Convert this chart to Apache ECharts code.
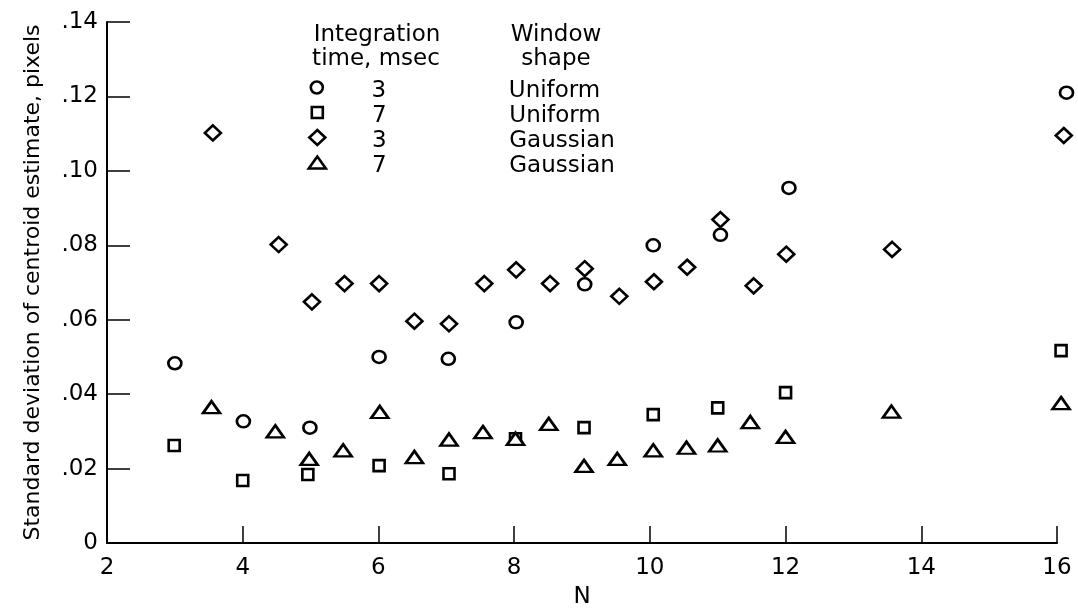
<!DOCTYPE html>
<html>
<head>
<meta charset="utf-8">
<script src="https://cdn.jsdelivr.net/npm/echarts@6/dist/echarts.min.js"></script>
<style>
  html, body { margin: 0; padding: 0; background: #fff; }
  #chart { width: 1078px; height: 609px; }
</style>
</head>
<body>
<div id="chart"></div>
<script>
// ---- Data ----
const xTickValues = [2, 4, 6, 8, 10, 12, 14, 16];
const yTickLabels = ['0', '.02', '.04', '.06', '.08', '.10', '.12', '.14'];

// Integration time 3 msec, Uniform window (circles)
const u3N  = [3.00, 4.01, 4.99, 6.01, 7.03, 8.03, 9.04, 10.05, 11.04, 12.05, 16.14];
const u3SD = [0.0483, 0.0327, 0.0310, 0.0500, 0.0495, 0.0593, 0.0695, 0.0800, 0.0828, 0.0954, 0.1210];

// Integration time 7 msec, Uniform window (squares)
const u7N  = [2.99, 4.00, 4.96, 6.01, 7.04, 8.02, 9.03, 10.05, 11.00, 12.00, 16.06];
const u7SD = [0.0262, 0.0168, 0.0184, 0.0208, 0.0186, 0.0280, 0.0310, 0.0345, 0.0363, 0.0404, 0.0517];

// Integration time 3 msec, Gaussian window (diamonds)
const g3N  = [3.56, 4.53, 5.02, 5.50, 6.01, 6.53, 7.04, 7.56, 8.03, 8.53, 9.04, 9.55, 10.06, 10.55, 11.04, 11.53, 12.01, 13.57, 16.10];
const g3SD = [0.1102, 0.0802, 0.0648, 0.0697, 0.0697, 0.0596, 0.0589, 0.0697, 0.0734, 0.0697, 0.0737, 0.0663, 0.0702, 0.0741, 0.0869, 0.0691, 0.0776, 0.0789, 0.1095];

// Integration time 7 msec, Gaussian window (triangles)
const g7N  = [3.54, 4.48, 4.98, 5.48, 6.02, 6.53, 7.04, 7.54, 8.02, 8.51, 9.03, 9.52, 10.05, 10.54, 11.00, 11.48, 12.00, 13.56, 16.06];
const g7SD = [0.0365, 0.0300, 0.0226, 0.0249, 0.0352, 0.0231, 0.0278, 0.0298, 0.0280, 0.0320, 0.0207, 0.0226, 0.0249, 0.0256, 0.0262, 0.0325, 0.0285, 0.0353, 0.0376];

const legendTimes  = ['3', '7', '3', '7'];
const legendShapes = ['Uniform', 'Uniform', 'Gaussian', 'Gaussian'];
const legendHeader1 = ['Integration', 'time, msec'];
const legendHeader2 = ['Window', 'shape'];

// ---- Styling / layout ----
const FONT = '"DejaVu Sans", "Liberation Sans", Arial, sans-serif';
const FS = 23;
const MARK_STYLE = { color: '#fff', borderColor: '#000', borderWidth: 2.6, opacity: 1 };
const seriesDefs = [
  { name: '3 msec Uniform',  xs: u3N, ys: u3SD, symbol: 'circle',   size: [13, 12] },
  { name: '7 msec Uniform',  xs: u7N, ys: u7SD, symbol: 'rect',     size: [11, 11] },
  { name: '3 msec Gaussian', xs: g3N, ys: g3SD, symbol: 'diamond',  size: [16, 15] },
  { name: '7 msec Gaussian', xs: g7N, ys: g7SD, symbol: 'triangle', size: [17, 12] }
];
const legendRowY = [88, 113, 138, 163];
const legendIconX = 316, legendNumX = 378, legendShapeX = 508;

const chart = echarts.init(document.getElementById('chart'), null, { renderer: 'canvas' });

const series = seriesDefs.map(d => ({
  name: d.name,
  type: 'scatter',
  symbol: d.symbol,
  symbolSize: d.size,
  clip: false,
  data: d.xs.map((x, i) => [x, d.ys[i]]),
  itemStyle: Object.assign({}, MARK_STYLE),
  emphasis: { disabled: true },
  z: 3
}));

const legends = seriesDefs.map((d, i) => {
  const w = d.size[0], h = d.size[1];
  const textStart = legendIconX - w / 2 + w + 5;
  const aWidth = 2 * (legendNumX - textStart);
  const bPad = legendShapeX - textStart - aWidth;
  return {
    data: [d.name],
    orient: 'vertical',
    left: legendIconX - w / 2,
    top: legendRowY[i] - 16,
    padding: 0,
    itemWidth: w,
    itemHeight: h,
    selectedMode: false,
    itemStyle: Object.assign({}, MARK_STYLE),
    formatter: () => '{a|' + legendTimes[i] + '}{b|' + legendShapes[i] + '}',
    textStyle: {
      color: '#000',
      fontFamily: FONT,
      fontSize: FS,
      rich: {
        a: { width: aWidth, align: 'center', padding: [8, 0, 0, 0], fontFamily: FONT, fontSize: FS, lineHeight: 24, color: '#000' },
        b: { padding: [8, 0, 0, bPad], align: 'left', fontFamily: FONT, fontSize: FS, lineHeight: 24, color: '#000' }
      }
    }
  };
});

const headerText = (text, x, y) => ({
  type: 'text',
  x: x, y: y,
  style: { text: text, font: FS + 'px ' + FONT, fill: '#000', textAlign: 'center', textVerticalAlign: 'middle' },
  silent: true
});

const option = {
  animation: false,
  backgroundColor: '#fff',
  grid: { left: 107, right: 21, top: 22, bottom: 66, containLabel: false, outerBoundsMode: 'none' },
  xAxis: {
    type: 'value',
    min: 2, max: 16, interval: 2,
    name: 'N',
    nameLocation: 'middle',
    nameGap: 43,
    nameTextStyle: { color: '#000', fontFamily: FONT, fontSize: FS },
    axisLine: { show: true, onZero: false, lineStyle: { color: '#000', width: 2 } },
    axisTick: { show: true, inside: true, length: 17, lineStyle: { color: '#000', width: 1.5 } },
    axisLabel: { color: '#000', fontFamily: FONT, fontSize: FS, margin: 14,
                 formatter: v => String(v), showMinLabel: true, showMaxLabel: true },
    splitLine: { show: false }
  },
  yAxis: {
    type: 'value',
    min: 0, max: 0.14, interval: 0.02,
    name: 'Standard deviation of centroid estimate, pixels',
    nameLocation: 'middle',
    nameGap: 63,
    nameTextStyle: { color: '#000', fontFamily: FONT, fontSize: 22 },
    axisLine: { show: true, onZero: false, lineStyle: { color: '#000', width: 2 } },
    axisTick: { show: true, inside: true, length: 23, lineStyle: { color: '#000', width: 1.5 } },
    axisLabel: { color: '#000', fontFamily: FONT, fontSize: FS, margin: 9,
                 formatter: v => yTickLabels[Math.round(v / 0.02)] },
    splitLine: { show: false }
  },
  legend: legends,
  graphic: [
    headerText(legendHeader1[0], 377, 35),
    headerText(legendHeader1[1], 376, 59),
    headerText(legendHeader2[0], 556, 35),
    headerText(legendHeader2[1], 556, 59)
  ],
  series: series
};

chart.setOption(option);
</script>
</body>
</html>
